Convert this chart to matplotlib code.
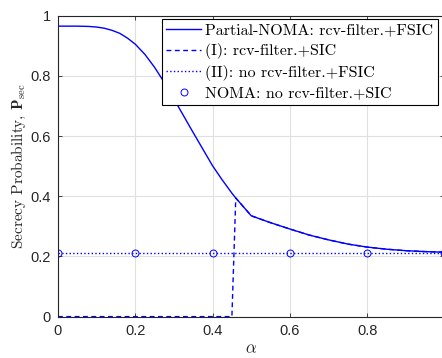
import numpy as np
import matplotlib
matplotlib.use("Agg")
import matplotlib.pyplot as plt

# values
alpha = [0, 0.05, 0.08, 0.1, 0.12, 0.14, 0.16, 0.18, 0.2, 0.225, 0.25,
         0.275, 0.3, 0.325, 0.35, 0.375, 0.4, 0.425, 0.45, 0.46, 0.475,
         0.5, 0.55, 0.6, 0.65, 0.7, 0.75, 0.8, 0.85, 0.9, 0.95, 1.0]
p_partial = [0.965, 0.965, 0.964, 0.962, 0.958, 0.951, 0.941, 0.925, 0.905,
             0.871, 0.828, 0.778, 0.723, 0.667, 0.611, 0.556, 0.501, 0.454,
             0.41, 0.394, 0.372, 0.335, 0.312, 0.291, 0.271, 0.255, 0.241,
             0.231, 0.224, 0.219, 0.216, 0.214]
# (I): zero until the jump between 0.45 and 0.46, then same as partial-NOMA
p_sic = [0.0] * 19 + p_partial[19:]
p_nofilter = 0.213
alpha_noma = [0, 0.2, 0.4, 0.6, 0.8, 1.0]
p_noma = [0.213] * 6

plt.rcParams['mathtext.fontset'] = 'cm'
serif = 'cmr10'
dark = (0.15, 0.15, 0.15)

fig = plt.figure(figsize=(4.42, 3.58), dpi=100)
ax = fig.add_axes([0.1312, 0.1156, 0.8744, 0.8408])

blue = (0, 0, 1)
ax.plot(alpha, p_partial, '-', color=blue, lw=1.0,
        label='Partial-NOMA: rcv-filter.+FSIC')
ax.plot(alpha, p_sic, '--', color=blue, lw=1.0, dashes=(3.5, 2.5),
        label='(I): rcv-filter.+SIC')
ax.plot([0, 1], [p_nofilter, p_nofilter], ':', color=blue, lw=1.0,
        label='(II): no rcv-filter.+FSIC')
ax.plot(alpha_noma, p_noma, 'o', color=blue, mfc='none', ms=5, mew=0.7,
        ls='none', label='NOMA: no rcv-filter.+SIC')

ax.set_xlim(0, 1)
ax.set_ylim(0, 1)
ax.set_xticks([0, 0.2, 0.4, 0.6, 0.8, 1])
ax.set_yticks([0, 0.2, 0.4, 0.6, 0.8, 1])
ax.set_xticklabels(['0', '0.2', '0.4', '0.6', '0.8', '1'])
ax.set_yticklabels(['0', '0.2', '0.4', '0.6', '0.8', '1'])
for lab in ax.get_xticklabels() + ax.get_yticklabels():
    lab.set_family('Liberation Sans')
    lab.set_fontsize(10.5)
    lab.set_color(dark)
ax.tick_params(direction='in', length=3, width=0.6, top=True, right=True,
               colors=dark, pad=5)
ax.grid(True, color=(0.88, 0.88, 0.88), lw=0.8)
ax.set_axisbelow(True)
for s in ax.spines.values():
    s.set_color(dark)
    s.set_linewidth(0.8)

ax.set_xlabel(r'$\alpha$', fontsize=12, labelpad=1, color=dark)
ax.set_ylabel(r'Secrecy Probability, $\mathbf{P}_{\mathrm{sec}}$',
              family=serif, fontsize=11, labelpad=2, color=dark)

leg = ax.legend(loc='upper left', bbox_to_anchor=(0.268, 0.99),
                prop={'family': serif, 'size': 11.5}, fancybox=False,
                edgecolor='black', framealpha=1, borderaxespad=0,
                handlelength=2.2, handletextpad=0.25, labelspacing=0.35,
                borderpad=0.3)
leg.get_frame().set_linewidth(0.8)

fig.savefig('out.png', dpi=100)
